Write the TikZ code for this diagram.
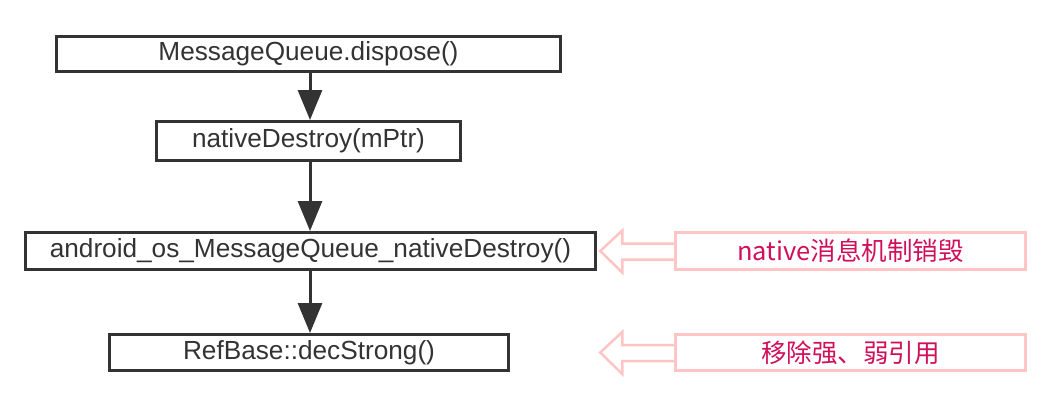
\documentclass[tikz,border=0pt]{standalone}
\usepackage{fontspec}
\setmainfont{Liberation Sans}
\newfontfamily\cjk{Noto Sans CJK SC}
\usetikzlibrary{arrows.meta,calc}
\definecolor{ink}{HTML}{333333}
\definecolor{pinkline}{HTML}{FFC4C4}
\definecolor{magentatext}{HTML}{D0105A}
\tikzset{
  flowbox/.style={draw=ink, line width=3pt, rectangle, inner sep=0pt, text=ink,
    font=\fontsize{26.2}{30}\selectfont},
  notebox/.style={draw=pinkline, line width=2.5pt, rectangle, inner sep=0pt, text=magentatext,
    font=\cjk\fontsize{25.5}{30}\selectfont},
  flowarrow/.style={draw=ink, line width=3pt, -{Triangle[length=30pt,width=24pt]}},
  hollowarrow/.style={draw=pinkline, line width=2.5pt, line join=miter}
}
\begin{document}
\begin{tikzpicture}[x=1pt,y=-1pt]
\useasboundingbox[fill=white] (0,0) rectangle (1054,404);
\node[flowbox, minimum width=504pt, minimum height=35pt] (b1) at (308.5,54) {MessageQueue.dispose()};
\node[flowbox, minimum width=304pt, minimum height=39pt] (b2) at (308.5,141) {nativeDestroy(mPtr)};
\node[flowbox, minimum width=570pt, minimum height=37pt] (b3) at (310.5,251) {android\_os\_MessageQueue\_nativeDestroy()};
\node[flowbox, minimum width=399pt, minimum height=36pt] (b4) at (309,352.5) {RefBase::decStrong()};
\node[notebox, minimum width=350pt, minimum height=37pt] (n1) at (850.5,251) {native消息机制销毁};
\node[notebox, minimum width=350pt, minimum height=36pt] (n2) at (850.5,352.5) {移除强、弱引用};
\coordinate (ax) at (310,0);
\draw[flowarrow] (ax |- b1.south) -- (ax |- b2.north);
\draw[flowarrow] (ax |- b2.south) -- (ax |- b3.north);
\draw[flowarrow] (ax |- b3.south) -- (ax |- b4.north);
\draw[hollowarrow] ($(n1.west)+(0,-7.5)$) -- ++(-52,0) -- ++(0,-13) -- ++(-22,20.5) -- ++(22,21.5) -- ++(0,-13) -- ++(52,0);
\draw[hollowarrow] ($(n2.west)+(0,-7.5)$) -- ++(-52,0) -- ++(0,-13) -- ++(-22,20.5) -- ++(22,21.5) -- ++(0,-13) -- ++(52,0);
\end{tikzpicture}
\end{document}
